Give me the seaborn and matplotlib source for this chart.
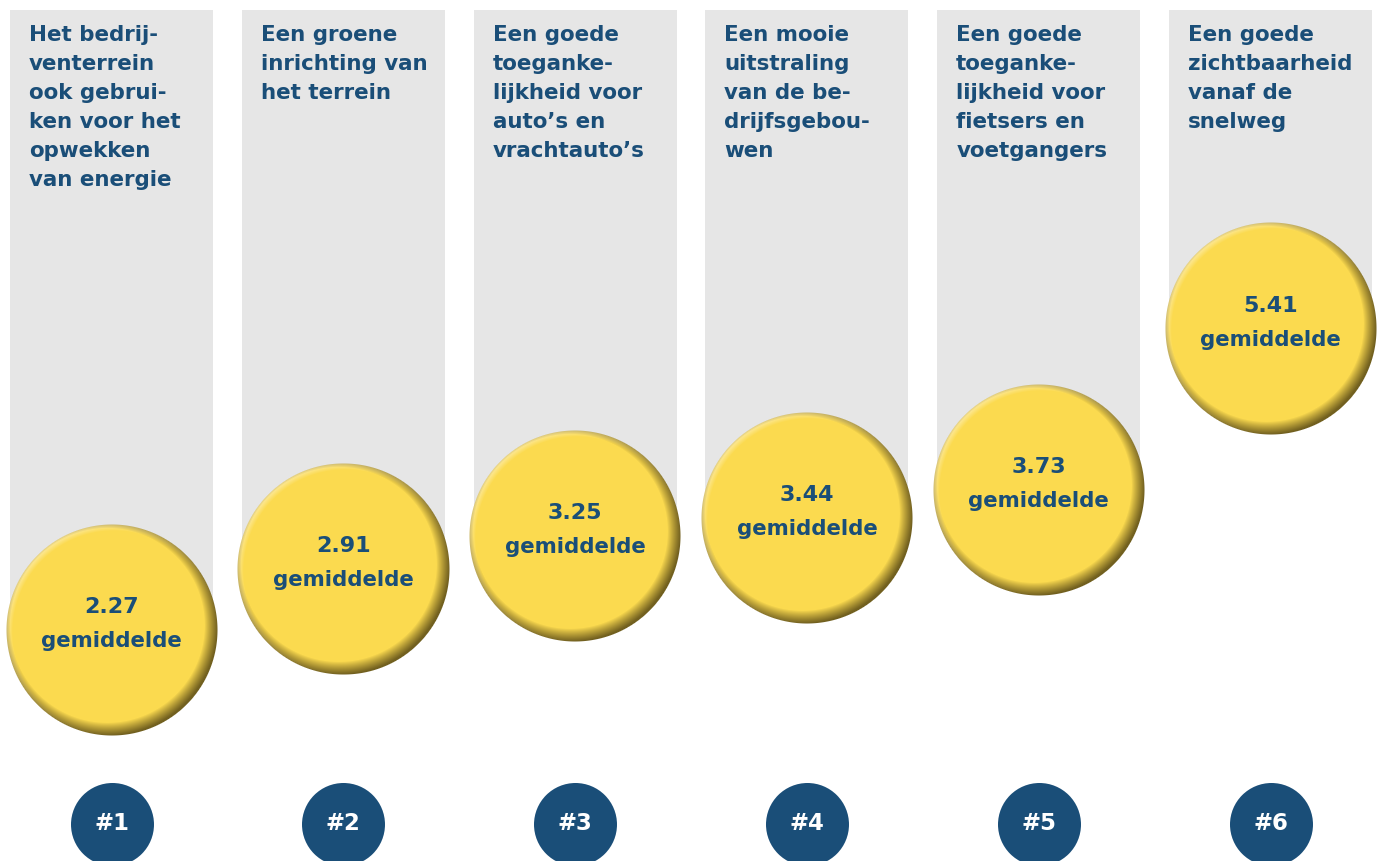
import numpy as np
import pandas as pd
import matplotlib
matplotlib.use("Agg")
import matplotlib.pyplot as plt
import seaborn as sns
from matplotlib.colors import to_rgb

# ---------------- data ----------------
labels = [
    "Het bedrij-\nventerrein\nook gebrui-\nken voor het\nopwekken\nvan energie",
    "Een groene\ninrichting van\nhet terrein",
    "Een goede\ntoeganke-\nlijkheid voor\nauto’s en\nvrachtauto’s",
    "Een mooie\nuitstraling\nvan de be-\ndrijfsgebou-\nwen",
    "Een goede\ntoeganke-\nlijkheid voor\nfietsers en\nvoetgangers",
    "Een goede\nzichtbaarheid\nvanaf de\nsnelweg",
]
values = [2.27, 2.91, 3.25, 3.44, 3.73, 5.41]
ranks = ["#1", "#2", "#3", "#4", "#5", "#6"]
value_label = "gemiddelde"

# ---------------- style ----------------
NAVY = "#1a4e78"
GREY = "#e6e6e6"
YELLOW = "#fbda4f"
LIGHT = "#fde893"
DARK = "#72601f"

sns.set_theme(style="white")
plt.rcParams["font.family"] = ["DejaVu Sans"]

W, H, DPI = 1386, 861, 100
fig = plt.figure(figsize=(W / DPI, H / DPI), dpi=DPI)
ax = fig.add_axes([0, 0, 1, 1])
XMIN, XMAX = -0.481, 5.498
YMIN, YMAX = -0.141, 8.851
ax.set_xlim(XMIN, XMAX)
ax.set_ylim(YMIN, YMAX)
ax.axis("off")

df = pd.DataFrame({"pos": np.arange(len(values)), "value": values,
                   "label": labels, "rank": ranks})

# hanging grey columns (from the top down to the value)
TOP = YMAX - 10 / H * (YMAX - YMIN)
BAR_W = 0.876
ax.bar(df["pos"], TOP - df["value"], bottom=df["value"], width=BAR_W,
       color=GREY, linewidth=0, zorder=1)

# header texts
for p, lab in zip(df["pos"], df["label"]):
    ax.annotate(lab, xy=(p - BAR_W / 2, TOP), xytext=(19, -15),
                textcoords="offset pixels", ha="left", va="top",
                fontsize=15.4, fontweight="bold", color=NAVY,
                linespacing=1.56, zorder=5)

# yellow bevelled circles (shaded disc images centred on each value)
R = 105.5  # radius in px
SH = 6.5   # shadow offset (bottom-right)
HL = 3.0   # highlight offset (top-left)
n = int(2 * R + 6)
if n % 2:
    n += 1
half = n / 2
cc = np.arange(n) - half + 0.5
gx, gy = np.meshgrid(cc, -cc)  # gy positive upward, row 0 at top
rr = np.hypot(gx, gy)
d = np.array([np.cos(np.deg2rad(135)), np.sin(np.deg2rad(135))])  # up-left
# shadow: inner disc shifted to up-left
e_sh = (R - SH) - np.hypot(gx - SH * d[0], gy - SH * d[1])
t_dark = np.clip(-e_sh / (2 * SH) + 0.15, 0, 1) ** 0.9
# highlight: inner disc shifted to bottom-right
e_hl = (R - HL) - np.hypot(gx + HL * d[0], gy + HL * d[1])
t_light = np.clip(-e_hl / (2 * HL) + 0.2, 0, 1)
base = np.array(to_rgb(YELLOW))
col = base + (np.array(to_rgb(LIGHT)) - base) * t_light[..., None]
col = col + (np.array(to_rgb(DARK)) - col) * t_dark[..., None]
alpha = np.clip(R - rr + 0.5, 0, 1)
img = np.dstack([col, alpha])

fig.canvas.draw()
inv = ax.transData.inverted()
for p, v in zip(df["pos"], df["value"]):
    px, py = ax.transData.transform((p, v))
    px, py = np.round(px), np.round(py)
    (x0, y0) = inv.transform((px - half, py - half))
    (x1, y1) = inv.transform((px + half, py + half))
    ax.imshow(img, extent=(x0, x1, y0, y1), origin="upper",
              interpolation="nearest", aspect="auto", zorder=2)
ax.set_xlim(XMIN, XMAX)
ax.set_ylim(YMIN, YMAX)

for p, v in zip(df["pos"], df["value"]):
    ax.annotate(f"{v:.2f}", xy=(p, v), xytext=(0, 17), textcoords="offset pixels",
                ha="center", va="baseline", fontsize=16, fontweight="bold",
                color=NAVY, zorder=10)
    ax.annotate(value_label, xy=(p, v), xytext=(0, -17), textcoords="offset pixels",
                ha="center", va="baseline", fontsize=15.3, fontweight="bold",
                color=NAVY, zorder=10)

# rank badges
y_rank = YMIN + (H - 824) / H * (YMAX - YMIN)
sns.scatterplot(x=df["pos"], y=[y_rank] * len(df), s=(83 * 72 / DPI) ** 2,
                color=NAVY, linewidth=0, ax=ax, zorder=3, legend=False)
for p, rk in zip(df["pos"], df["rank"]):
    ax.text(p, y_rank, rk, ha="center", va="center", fontsize=16.5,
            fontweight="bold", color="white", zorder=10)
ax.set_xlim(XMIN, XMAX)
ax.set_ylim(YMIN, YMAX)

fig.savefig("out.png", dpi=DPI)
